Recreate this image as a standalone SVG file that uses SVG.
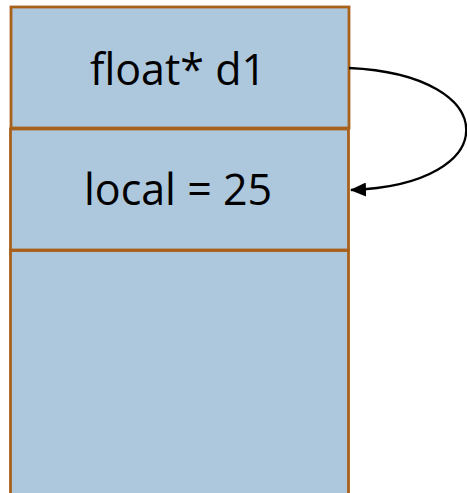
<svg xmlns="http://www.w3.org/2000/svg" width="467" height="493" viewBox="0 0 467 493">
<style>
.box{fill:#ADC7DD;stroke:#A8611B;stroke-width:2.8}
.lbl{font-family:"Open Sans","Liberation Sans",sans-serif;font-size:43px;fill:#000;text-anchor:middle}
.conn{fill:none;stroke:#000;stroke-width:2.3}
</style>
<defs>
<marker id="ah" markerWidth="16" markerHeight="14" refX="15" refY="7" orient="auto" markerUnits="userSpaceOnUse">
<path d="M0,0 L16,7 L0,14 Z" fill="#000"/>
</marker>
</defs>
<g id="bottom"><rect class="box" x="10.5" y="250.5" width="338" height="260"/></g>
<g id="d1"><rect class="box" x="11" y="7" width="338" height="121"/><text class="lbl" x="178" y="85">float* d1</text></g>
<g id="local"><rect class="box" x="10.5" y="129" width="338" height="121"/><text class="lbl" x="178" y="205">local = 25</text></g>
<g id="connectors"><path class="conn" d="M349,68 C505,75 505,185 351,190" marker-end="url(#ah)"/></g>
</svg>
